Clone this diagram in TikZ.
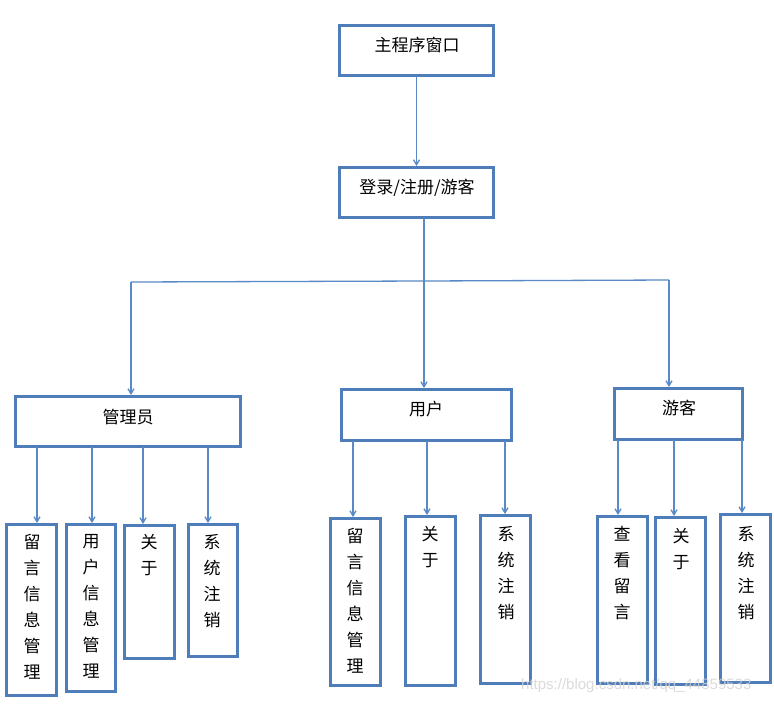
\documentclass[tikz,border=0pt]{standalone}
\usepackage{fontspec}
\setmainfont{Noto Sans CJK SC}
\newfontfamily\wmfont{Liberation Sans}
\usetikzlibrary{arrows.meta}
\definecolor{boxblue}{HTML}{4F7DBA}
\definecolor{arrblue}{HTML}{5A8AC6}
\begin{document}
\begin{tikzpicture}[x=1pt,y=-1pt,
  box/.style={draw=boxblue, line width=3pt, inner sep=0pt, outer sep=0pt, anchor=north west, rectangle},
  ttl/.style={inner sep=0pt, font=\fontsize{17}{20}\selectfont},
  vt/.style={inner sep=0pt, anchor=north, align=center, font=\fontsize{17}{26}\selectfont},
  ln/.style={draw=arrblue, line width=1.3pt},
  arr/.style={ln, -{Straight Barb[length=5pt,width=6pt]}, shorten >=1.5pt}]
\useasboundingbox (0,0) rectangle (774,705);
\fill[white] (0,0) rectangle (774,705);
% top boxes
\node[box, minimum width=154pt, minimum height=50pt] (main) at (339.5,25.5) {};
\node[ttl] (maint) at (417,45) {主程序窗口};
\node[box, minimum width=154pt, minimum height=50pt] (login) at (339.5,167.5) {};
\node[ttl] (logint) at (417,188) {登录/注册/游客};
% second level
\node[box, minimum width=225pt, minimum height=50pt] (adm) at (15.5,396.5) {};
\node[ttl] (admt) at (128,417) {管理员};
\node[box, minimum width=170pt, minimum height=51pt] (usr) at (341.5,389.5) {};
\node[ttl] (usrt) at (426,409) {用户};
\node[box, minimum width=128pt, minimum height=51pt] (gst) at (614.5,388.5) {};
\node[ttl] (gstt) at (679,408) {游客};
% admin children
\node[box, minimum width=50pt, minimum height=171pt] (a1) at (6.5,524.5) {};
\node[vt] (a1t) at (32,534.5) {留\\言\\信\\息\\管\\理};
\node[box, minimum width=49pt, minimum height=167pt] (a2) at (66.5,524.5) {};
\node[vt] (a2t) at (91,534.5) {用\\户\\信\\息\\管\\理};
\node[box, minimum width=50pt, minimum height=133pt] (a3) at (124.5,525.5) {};
\node[vt] (a3t) at (149,534.5) {关\\于};
\node[box, minimum width=49pt, minimum height=132pt] (a4) at (188.5,524.5) {};
\node[vt] (a4t) at (212,534.5) {系\\统\\注\\销};
% user children
\node[box, minimum width=50pt, minimum height=167pt] (u1) at (330.5,518.5) {};
\node[vt] (u1t) at (355,528.5) {留\\言\\信\\息\\管\\理};
\node[box, minimum width=50pt, minimum height=169pt] (u2) at (405.5,516.5) {};
\node[vt] (u2t) at (430,526.5) {关\\于};
\node[box, minimum width=50pt, minimum height=168pt] (u3) at (480.5,515.5) {};
\node[vt] (u3t) at (506,526.5) {系\\统\\注\\销};
% guest children
\node[box, minimum width=50pt, minimum height=167pt] (g1) at (597.5,516.5) {};
\node[vt] (g1t) at (622,526.5) {查\\看\\留\\言};
\node[box, minimum width=50pt, minimum height=167pt] (g2) at (655.5,517.5) {};
\node[vt] (g2t) at (681,528.5) {关\\于};
\node[box, minimum width=50pt, minimum height=168pt] (g3) at (720.5,514.5) {};
\node[vt] (g3t) at (746,526.5) {系\\统\\注\\销};
% connectors
\draw[arr] (main.south) -- (login.north);
\coordinate (busL) at (131,282);
\coordinate (busM) at (424,281);
\coordinate (busR) at (669,280);
\draw[ln] (login.south -| busM) -- (busM);
\draw[ln] (busL) -- (busM) -- (busR);
\draw[arr] (busL) -- (adm.north -| busL);
\draw[arr] (busM) -- (usr.north -| busM);
\draw[arr] (busR) -- (gst.north -| busR);
\coordinate (xa1) at (37,0);
\coordinate (xa2) at (92,0);
\coordinate (xa3) at (143,0);
\coordinate (xa4) at (208,0);
\coordinate (xu1) at (353,0);
\coordinate (xu2) at (427,0);
\coordinate (xu3) at (505,0);
\coordinate (xg1) at (618,0);
\coordinate (xg2) at (674,0);
\coordinate (xg3) at (742,0);
\draw[arr] (adm.south -| xa1) -- (a1.north -| xa1);
\draw[arr] (adm.south -| xa2) -- (a2.north -| xa2);
\draw[arr] (adm.south -| xa3) -- (a3.north -| xa3);
\draw[arr] (adm.south -| xa4) -- (a4.north -| xa4);
\draw[arr] (usr.south -| xu1) -- (u1.north -| xu1);
\draw[arr] (usr.south -| xu2) -- (u2.north -| xu2);
\draw[arr] (usr.south -| xu3) -- (u3.north -| xu3);
\draw[arr] (gst.south -| xg1) -- (g1.north -| xg1);
\draw[arr] (gst.south -| xg2) -- (g2.north -| xg2);
\draw[arr] (gst.south -| xg3) -- (g3.north -| xg3);
% watermark
\node[inner sep=0pt, anchor=west, text=gray!35, opacity=0.8, font=\wmfont\fontsize{15}{18}\selectfont] (wm) at (521,686) {https://blog.csdn.net/qq\_44859533};
\end{tikzpicture}
\end{document}
